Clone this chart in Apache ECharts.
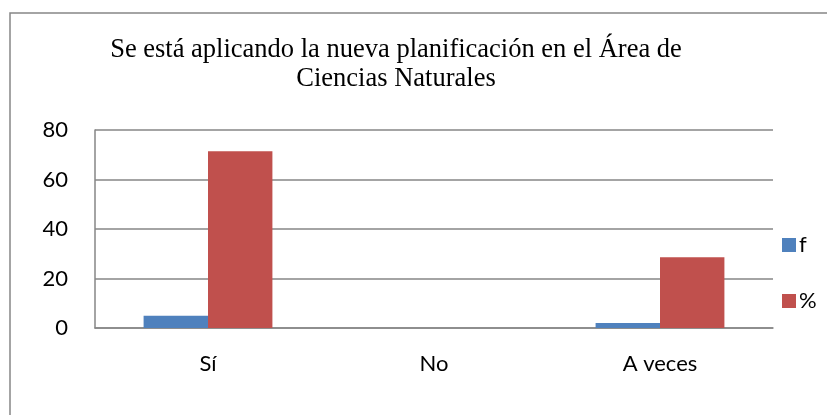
<!DOCTYPE html>
<html>
<head>
<meta charset="utf-8">
<script src="https://cdn.jsdelivr.net/npm/echarts@6/dist/echarts.min.js"></script>
<style>
  html, body { margin: 0; padding: 0; background: #fff; }
  #chart { width: 827px; height: 415px; }
</style>
</head>
<body>
<div id="chart"></div>
<script>
/* datos de la tabla */
var categorias = ['Sí', 'No', 'A veces'];
var frecuencia = [5, 0, 2];
var porcentaje = [71.43, 0, 28.57];
var nombresSeries = ['f', '%'];

var dom = document.getElementById('chart');
var myChart = echarts.init(dom);

var gris = '#868686';

var option = {
    backgroundColor: '#fff',
    animation: false,
    title: {
        text: 'Se está aplicando la nueva planificación en el Área de\nCiencias Naturales',
        left: 391,
        top: 31,
        textAlign: 'center',
        textStyle: {
            fontFamily: 'Liberation Serif',
            fontWeight: 'normal',
            fontSize: 26.5,
            lineHeight: 29,
            color: '#000'
        }
    },
    legend: {
        orient: 'vertical',
        left: 777,
        top: 229,
        itemWidth: 14,
        itemHeight: 14,
        itemGap: 34,
        icon: 'rect',
        data: nombresSeries,
        textStyle: {
            fontFamily: 'Lato',
            fontSize: 22,
            color: '#000',
            padding: [0, 0, 0, -2]
        }
    },
    grid: {
        left: 95,
        top: 130,
        right: 54,
        bottom: 87,
        containLabel: false
    },
    xAxis: {
        type: 'category',
        data: categorias,
        axisTick: { show: false },
        axisLine: { lineStyle: { color: gris, width: 1.5 } },
        axisLabel: {
            margin: 25,
            fontFamily: 'Lato',
            fontSize: 22,
            color: '#000'
        }
    },
    yAxis: {
        type: 'value',
        min: 0,
        max: 80,
        interval: 20,
        axisLine: { show: true, lineStyle: { color: gris, width: 1.5 } },
        axisTick: { show: false },
        splitLine: { lineStyle: { color: gris, width: 1.5 } },
        axisLabel: {
            margin: 27,
            fontFamily: 'Lato',
            fontSize: 22,
            color: '#000'
        }
    },
    graphic: [{
        // marco exterior del gráfico
        type: 'rect',
        shape: { x: 10, y: 13, width: 840, height: 440 },
        style: { fill: 'none', stroke: gris, lineWidth: 1.5 },
        z: 0
    }],
    series: [{
        name: nombresSeries[0],
        type: 'bar',
        data: frecuencia,
        barGap: '0%',
        barCategoryGap: '43%',
        itemStyle: { color: '#4F81BD' }
    }, {
        name: nombresSeries[1],
        type: 'bar',
        data: porcentaje,
        barGap: '0%',
        barCategoryGap: '43%',
        itemStyle: { color: '#C0504D' }
    }]
};

myChart.setOption(option);
</script>
</body>
</html>
